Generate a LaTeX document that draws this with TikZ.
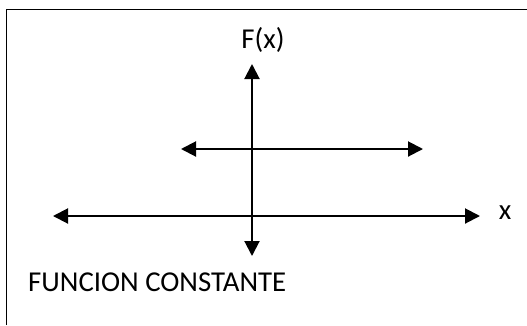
\documentclass[tikz,border=0pt]{standalone}
\usepackage{fontspec}
\setmainfont{Carlito}
\usetikzlibrary{arrows.meta}
\tikzset{
  frame/.style={line width=1.4pt, black},
  axis/.style={line width=2pt, black, {Triangle[length=15pt,width=15pt]}-{Triangle[length=15pt,width=15pt]}},
  lbl/.style={inner sep=0pt, font=\fontsize{28.8}{34}\selectfont}
}
\begin{document}
\begin{tikzpicture}[x=1pt,y=-1pt]
\useasboundingbox (0,0) rectangle (527,325);
\fill[white] (0,0) rectangle (527,325);
\coordinate (fbl) at (6.5,325);
\coordinate (ftl) at (6.5,9.5);
\coordinate (ftr) at (527,9.5);
\draw[frame] (fbl) -- (ftl) -- (ftr);
\coordinate (vt) at (252,64);
\coordinate (vb) at (252,256);
\coordinate (ul) at (181,149);
\coordinate (ur) at (423,149);
\coordinate (ll) at (53,216);
\coordinate (lr) at (480,216);
\draw[axis] (vb) -- (vt);
\draw[axis] (ul) -- (ur);
\draw[axis] (ll) -- (lr);
\node[lbl, anchor=base] (fx) at (263,48.3) {F(x)};
\node[lbl, anchor=base] (xl) at (505,219) {x};
\node[lbl, anchor=base west] (title) at (28,291.7) {FUNCION CONSTANTE};
\end{tikzpicture}
\end{document}
